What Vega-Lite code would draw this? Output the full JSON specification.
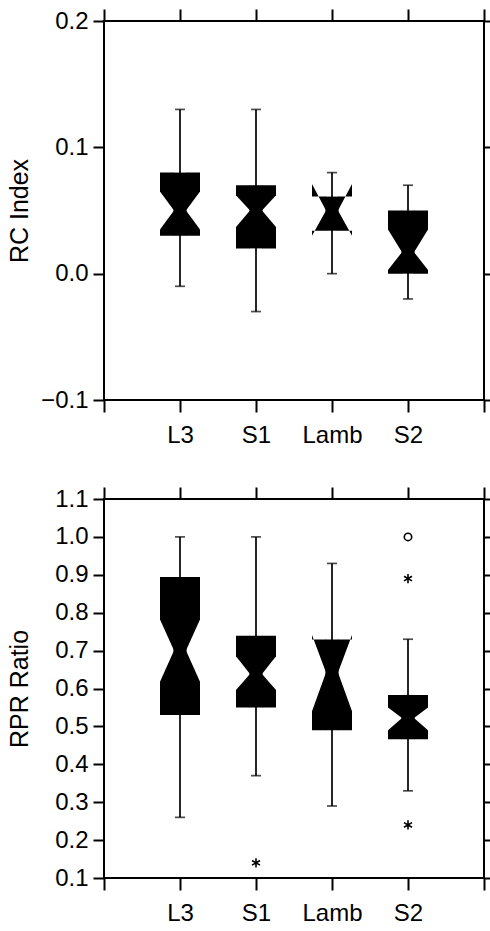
{
  "$schema": "https://vega.github.io/schema/vega-lite/v6.json",
  "background": "white",
  "padding": {"left": 6, "top": 7, "right": 0, "bottom": 0},
  "spacing": 37,
  "config": {
    "font": "Liberation Sans",
    "view": {"stroke": "black", "strokeWidth": 2},
    "axis": {
      "labelFont": "Liberation Sans", "titleFont": "Liberation Sans",
      "labelFontSize": 24, "titleFontSize": 25, "titleFontWeight": "normal",
      "labelColor": "black", "titleColor": "black", "tickColor": "black",
      "tickWidth": 2, "domain": false, "grid": false
    }
  },
  "datasets": {
    "rc": [
      {"group": "L3", "wlo": -0.01, "q1": 0.03, "nlo": 0.035, "med": 0.05, "nhi": 0.065, "q3": 0.08, "whi": 0.13},
      {"group": "S1", "wlo": -0.03, "q1": 0.02, "nlo": 0.037, "med": 0.05, "nhi": 0.062, "q3": 0.07, "whi": 0.13},
      {"group": "Lamb", "wlo": 0.0, "q1": 0.034, "nlo": 0.03, "med": 0.05, "nhi": 0.071, "q3": 0.061, "whi": 0.08},
      {"group": "S2", "wlo": -0.02, "q1": 0.0, "nlo": 0.003, "med": 0.017, "nhi": 0.035, "q3": 0.05, "whi": 0.07}
    ],
    "rpr": [
      {"group": "L3", "wlo": 0.26, "q1": 0.53, "nlo": 0.618, "med": 0.70, "nhi": 0.782, "q3": 0.894, "whi": 1.0},
      {"group": "S1", "wlo": 0.37, "q1": 0.55, "nlo": 0.596, "med": 0.638, "nhi": 0.685, "q3": 0.739, "whi": 1.0},
      {"group": "Lamb", "wlo": 0.29, "q1": 0.49, "nlo": 0.54, "med": 0.642, "nhi": 0.741, "q3": 0.729, "whi": 0.93},
      {"group": "S2", "wlo": 0.33, "q1": 0.466, "nlo": 0.49, "med": 0.522, "nhi": 0.55, "q3": 0.583, "whi": 0.73}
    ],
    "rprOut": [
      {"group": "S1", "value": 0.14, "kind": "outside"},
      {"group": "S2", "value": 1.0, "kind": "far"},
      {"group": "S2", "value": 0.89, "kind": "outside"},
      {"group": "S2", "value": 0.24, "kind": "outside"}
    ]
  },
  "vconcat": [
    {
      "width": 380, "height": 379,
      "resolve": {"scale": {"x": "independent", "xOffset": "independent"}, "axis": {"x": "independent", "y": "independent"}},
      "layer": [
        {
          "data": {"name": "rc"},
          "mark": {"type": "rule", "color": "black", "strokeWidth": 1.7},
          "encoding": {
            "x": {"field": "group", "type": "nominal", "scale": {"type": "point", "domain": [" ", "L3", "S1", "Lamb", "S2", "  "], "padding": 0}, "axis": {"orient": "bottom", "title": null, "tickSize": 12, "labelPadding": 11, "labelAngle": 0}},
            "y": {"field": "wlo", "type": "quantitative", "scale": {"domain": [-0.1, 0.2], "nice": false, "zero": false}, "axis": {"orient": "left", "values": [-0.1, 0, 0.1, 0.2], "format": ".1f", "title": "RC Index", "tickSize": 11, "labelPadding": 5, "titleX": -72}},
            "y2": {"field": "whi"}
          }
        },
        {
          "data": {"name": "rc"},
          "transform": [{"fold": ["wlo", "whi"], "as": ["end", "val"]}],
          "mark": {"type": "tick", "color": "black", "thickness": 1.7, "size": 10},
          "encoding": {
            "x": {"field": "group", "type": "nominal", "scale": {"type": "point", "domain": [" ", "L3", "S1", "Lamb", "S2", "  "], "padding": 0}, "axis": {"orient": "top", "title": null, "labels": false, "tickSize": 12}},
            "y": {"field": "val", "type": "quantitative", "scale": {"domain": [-0.1, 0.2], "nice": false, "zero": false}, "axis": {"orient": "right", "values": [-0.1, 0, 0.1, 0.2], "labels": false, "title": null, "tickSize": 7}}
          }
        },
        {
          "data": {"name": "rc"},
          "mark": {"type": "bar", "color": "black", "size": 13},
          "encoding": {
            "x": {"field": "group", "type": "nominal", "scale": {"type": "band", "domain": ["L3", "S1", "Lamb", "S2"], "paddingInner": 0, "paddingOuter": 0.5}, "axis": null},
            "y": {"field": "q1", "type": "quantitative", "scale": {"domain": [-0.1, 0.2], "nice": false, "zero": false}, "axis": null},
            "y2": {"field": "q3"}
          }
        },
        {
          "data": {"name": "rc"},
          "transform": [{"fold": ["nlo", "med"], "as": ["vertex", "val"]}],
          "mark": {"type": "area", "color": "black"},
          "encoding": {
            "x": {"field": "group", "type": "nominal", "scale": {"type": "band", "domain": ["L3", "S1", "Lamb", "S2"], "paddingInner": 0, "paddingOuter": 0.5}, "axis": null},
            "xOffset": {"field": "vertex", "type": "nominal", "scale": {"type": "point", "domain": ["nlo", "med"], "range": [18, 32], "padding": 0}},
            "y": {"field": "val", "type": "quantitative", "scale": {"domain": [-0.1, 0.2], "nice": false, "zero": false}, "axis": null, "stack": null},
            "y2": {"field": "q1"},
            "detail": {"field": "group"}
          }
        },
        {
          "data": {"name": "rc"},
          "transform": [{"fold": ["nlo", "med"], "as": ["vertex", "val"]}],
          "mark": {"type": "area", "color": "black"},
          "encoding": {
            "x": {"field": "group", "type": "nominal", "scale": {"type": "band", "domain": ["L3", "S1", "Lamb", "S2"], "paddingInner": 0, "paddingOuter": 0.5}, "axis": null},
            "xOffset": {"field": "vertex", "type": "nominal", "scale": {"type": "point", "domain": ["med", "nlo"], "range": [44, 58], "padding": 0}},
            "y": {"field": "val", "type": "quantitative", "scale": {"domain": [-0.1, 0.2], "nice": false, "zero": false}, "axis": null, "stack": null},
            "y2": {"field": "q1"},
            "detail": {"field": "group"}
          }
        },
        {
          "data": {"name": "rc"},
          "transform": [{"fold": ["nhi", "med"], "as": ["vertex", "val"]}],
          "mark": {"type": "area", "color": "black"},
          "encoding": {
            "x": {"field": "group", "type": "nominal", "scale": {"type": "band", "domain": ["L3", "S1", "Lamb", "S2"], "paddingInner": 0, "paddingOuter": 0.5}, "axis": null},
            "xOffset": {"field": "vertex", "type": "nominal", "scale": {"type": "point", "domain": ["nhi", "med"], "range": [18, 32], "padding": 0}},
            "y": {"field": "val", "type": "quantitative", "scale": {"domain": [-0.1, 0.2], "nice": false, "zero": false}, "axis": null, "stack": null},
            "y2": {"field": "q3"},
            "detail": {"field": "group"}
          }
        },
        {
          "data": {"name": "rc"},
          "transform": [{"fold": ["nhi", "med"], "as": ["vertex", "val"]}],
          "mark": {"type": "area", "color": "black"},
          "encoding": {
            "x": {"field": "group", "type": "nominal", "scale": {"type": "band", "domain": ["L3", "S1", "Lamb", "S2"], "paddingInner": 0, "paddingOuter": 0.5}, "axis": null},
            "xOffset": {"field": "vertex", "type": "nominal", "scale": {"type": "point", "domain": ["med", "nhi"], "range": [44, 58], "padding": 0}},
            "y": {"field": "val", "type": "quantitative", "scale": {"domain": [-0.1, 0.2], "nice": false, "zero": false}, "axis": null, "stack": null},
            "y2": {"field": "q3"},
            "detail": {"field": "group"}
          }
        }
      ]
    },
    {
      "width": 380, "height": 379,
      "resolve": {"scale": {"x": "independent", "xOffset": "independent"}, "axis": {"x": "independent", "y": "independent"}},
      "layer": [
        {
          "data": {"name": "rpr"},
          "mark": {"type": "rule", "color": "black", "strokeWidth": 1.7},
          "encoding": {
            "x": {"field": "group", "type": "nominal", "scale": {"type": "point", "domain": [" ", "L3", "S1", "Lamb", "S2", "  "], "padding": 0}, "axis": {"orient": "bottom", "title": null, "tickSize": 12, "labelPadding": 11, "labelAngle": 0}},
            "y": {"field": "wlo", "type": "quantitative", "scale": {"domain": [0.1, 1.1], "nice": false, "zero": false}, "axis": {"orient": "left", "values": [0.1, 0.2, 0.3, 0.4, 0.5, 0.6, 0.7, 0.8, 0.9, 1.0, 1.1], "format": ".1f", "title": "RPR Ratio", "tickSize": 11, "labelPadding": 5, "titleX": -72}},
            "y2": {"field": "whi"}
          }
        },
        {
          "data": {"name": "rpr"},
          "transform": [{"fold": ["wlo", "whi"], "as": ["end", "val"]}],
          "mark": {"type": "tick", "color": "black", "thickness": 1.7, "size": 10},
          "encoding": {
            "x": {"field": "group", "type": "nominal", "scale": {"type": "point", "domain": [" ", "L3", "S1", "Lamb", "S2", "  "], "padding": 0}, "axis": {"orient": "top", "title": null, "labels": false, "tickSize": 12}},
            "y": {"field": "val", "type": "quantitative", "scale": {"domain": [0.1, 1.1], "nice": false, "zero": false}, "axis": {"orient": "right", "values": [0.1, 0.2, 0.3, 0.4, 0.5, 0.6, 0.7, 0.8, 0.9, 1.0, 1.1], "labels": false, "title": null, "tickSize": 7}}
          }
        },
        {
          "data": {"name": "rprOut"},
          "mark": {"type": "point", "filled": false, "stroke": "black", "strokeWidth": 1.6, "size": 55, "opacity": 1},
          "encoding": {
            "x": {"field": "group", "type": "nominal", "scale": {"type": "point", "domain": [" ", "L3", "S1", "Lamb", "S2", "  "], "padding": 0}, "axis": null},
            "y": {"field": "value", "type": "quantitative", "scale": {"domain": [0.1, 1.1], "nice": false, "zero": false}, "axis": null},
            "shape": {"field": "kind", "type": "nominal", "scale": {"domain": ["outside", "far"], "range": ["M0,-1.25L0,1.25M-1.08,-0.62L1.08,0.62M-1.08,0.62L1.08,-0.62", "circle"]}, "legend": null}
          }
        },
        {
          "data": {"name": "rpr"},
          "mark": {"type": "bar", "color": "black", "size": 13},
          "encoding": {
            "x": {"field": "group", "type": "nominal", "scale": {"type": "band", "domain": ["L3", "S1", "Lamb", "S2"], "paddingInner": 0, "paddingOuter": 0.5}, "axis": null},
            "y": {"field": "q1", "type": "quantitative", "scale": {"domain": [0.1, 1.1], "nice": false, "zero": false}, "axis": null},
            "y2": {"field": "q3"}
          }
        },
        {
          "data": {"name": "rpr"},
          "transform": [{"fold": ["nlo", "med"], "as": ["vertex", "val"]}],
          "mark": {"type": "area", "color": "black"},
          "encoding": {
            "x": {"field": "group", "type": "nominal", "scale": {"type": "band", "domain": ["L3", "S1", "Lamb", "S2"], "paddingInner": 0, "paddingOuter": 0.5}, "axis": null},
            "xOffset": {"field": "vertex", "type": "nominal", "scale": {"type": "point", "domain": ["nlo", "med"], "range": [18, 32], "padding": 0}},
            "y": {"field": "val", "type": "quantitative", "scale": {"domain": [0.1, 1.1], "nice": false, "zero": false}, "axis": null, "stack": null},
            "y2": {"field": "q1"},
            "detail": {"field": "group"}
          }
        },
        {
          "data": {"name": "rpr"},
          "transform": [{"fold": ["nlo", "med"], "as": ["vertex", "val"]}],
          "mark": {"type": "area", "color": "black"},
          "encoding": {
            "x": {"field": "group", "type": "nominal", "scale": {"type": "band", "domain": ["L3", "S1", "Lamb", "S2"], "paddingInner": 0, "paddingOuter": 0.5}, "axis": null},
            "xOffset": {"field": "vertex", "type": "nominal", "scale": {"type": "point", "domain": ["med", "nlo"], "range": [44, 58], "padding": 0}},
            "y": {"field": "val", "type": "quantitative", "scale": {"domain": [0.1, 1.1], "nice": false, "zero": false}, "axis": null, "stack": null},
            "y2": {"field": "q1"},
            "detail": {"field": "group"}
          }
        },
        {
          "data": {"name": "rpr"},
          "transform": [{"fold": ["nhi", "med"], "as": ["vertex", "val"]}],
          "mark": {"type": "area", "color": "black"},
          "encoding": {
            "x": {"field": "group", "type": "nominal", "scale": {"type": "band", "domain": ["L3", "S1", "Lamb", "S2"], "paddingInner": 0, "paddingOuter": 0.5}, "axis": null},
            "xOffset": {"field": "vertex", "type": "nominal", "scale": {"type": "point", "domain": ["nhi", "med"], "range": [18, 32], "padding": 0}},
            "y": {"field": "val", "type": "quantitative", "scale": {"domain": [0.1, 1.1], "nice": false, "zero": false}, "axis": null, "stack": null},
            "y2": {"field": "q3"},
            "detail": {"field": "group"}
          }
        },
        {
          "data": {"name": "rpr"},
          "transform": [{"fold": ["nhi", "med"], "as": ["vertex", "val"]}],
          "mark": {"type": "area", "color": "black"},
          "encoding": {
            "x": {"field": "group", "type": "nominal", "scale": {"type": "band", "domain": ["L3", "S1", "Lamb", "S2"], "paddingInner": 0, "paddingOuter": 0.5}, "axis": null},
            "xOffset": {"field": "vertex", "type": "nominal", "scale": {"type": "point", "domain": ["med", "nhi"], "range": [44, 58], "padding": 0}},
            "y": {"field": "val", "type": "quantitative", "scale": {"domain": [0.1, 1.1], "nice": false, "zero": false}, "axis": null, "stack": null},
            "y2": {"field": "q3"},
            "detail": {"field": "group"}
          }
        }
      ]
    }
  ]
}
